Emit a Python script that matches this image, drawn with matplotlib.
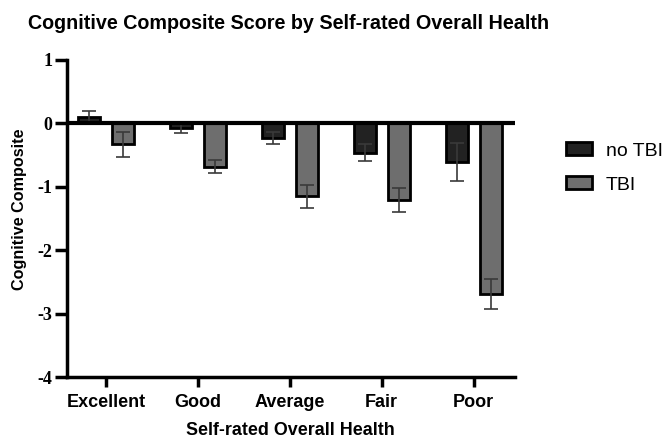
import numpy as np
import matplotlib.pyplot as plt
from matplotlib.ticker import FuncFormatter

plt.rcParams['font.family'] = ['Liberation Sans', 'DejaVu Sans']
plt.rcParams['font.weight'] = 'bold'

# Data
categories = ["Excellent", "Good", "Average", "Fair", "Poor"]
no_tbi = [0.10, -0.08, -0.23, -0.46, -0.61]
no_tbi_err = [0.10, 0.07, 0.09, 0.14, 0.30]
tbi = [-0.33, -0.68, -1.15, -1.21, -2.69]
tbi_err = [0.20, 0.11, 0.18, 0.19, 0.24]
yticks = [1, 0, -1, -2, -3, -4]

x = np.arange(len(categories))
w = 0.24
off = 0.185

fig = plt.figure(figsize=(6.67, 4.41), dpi=100)
ax = fig.add_axes([0.10, 0.145, 0.672, 0.719])

ekw = dict(ecolor="#3a3a3a", elinewidth=1.2, capsize=5, capthick=1.2)
ax.bar(x - off, no_tbi, w, color="#222222", edgecolor="black", linewidth=2,
       yerr=no_tbi_err, error_kw=ekw, label="no TBI", zorder=2)
ax.bar(x + off, tbi, w, color="#6e6e6e", edgecolor="black", linewidth=2,
       yerr=tbi_err, error_kw=ekw, label="TBI", zorder=2)

ax.axhline(0, color="black", lw=3, zorder=3)

ax.set_xlim(-0.43, 4.45)
ax.set_ylim(-4, 1)
ax.set_yticks(yticks)
ax.yaxis.set_major_formatter(FuncFormatter(lambda v, p: "%d" % v))
ax.set_xticks(x)
ax.set_xticklabels(categories, fontsize=13, fontweight="bold")
for lab in ax.get_yticklabels():
    lab.set_family(["Liberation Serif", "DejaVu Serif"])
    lab.set_fontweight("bold")
    lab.set_fontsize(13)

for s in ["top", "right"]:
    ax.spines[s].set_visible(False)
for s in ["left", "bottom"]:
    ax.spines[s].set_linewidth(2.5)
ax.tick_params(axis="y", width=2.5, length=8.5, pad=2)
ax.tick_params(axis="x", width=2.5, length=7, pad=5)

ax.set_ylabel("Cognitive Composite", fontsize=11.6, fontweight="bold")
ax.yaxis.set_label_coords(-0.088, 0.53)
ax.set_xlabel("Self-rated Overall Health", fontsize=12.9, fontweight="bold", labelpad=8)
fig.text(0.042, 0.935, "Cognitive Composite Score by Self-rated Overall Health",
         fontsize=14.2, fontweight="bold")

leg = ax.legend(loc="upper left", bbox_to_anchor=(1.075, 0.795), frameon=False,
                fontsize=14, handlelength=1.35, handleheight=0.65,
                labelspacing=0.85, handletextpad=0.7)
for t in leg.get_texts():
    t.set_fontweight("normal")

fig.savefig("out.png", dpi=100)
